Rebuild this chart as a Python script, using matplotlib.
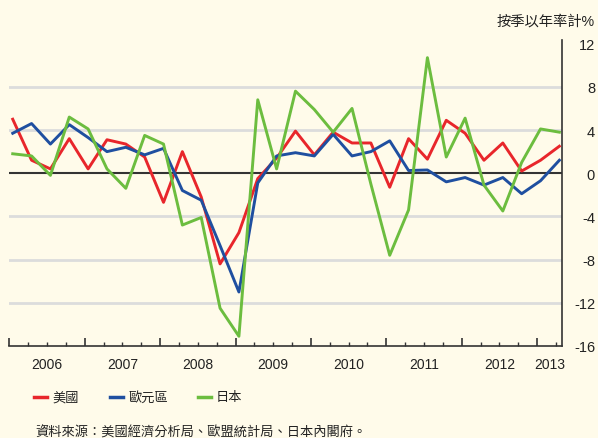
import matplotlib
matplotlib.use("Agg")
import matplotlib.pyplot as plt
from matplotlib.lines import Line2D
import numpy as np

plt.rcParams['font.family'] = ['Liberation Sans', 'Noto Sans CJK TC', 'DejaVu Sans']

# Quarterly data 2006Q1 - 2013Q2 (annualised q/q growth, %)
us = [5.0, 1.2, 0.4, 3.2, 0.4, 3.1, 2.7, 1.5, -2.7, 2.0,
      -2.2, -8.4, -5.5, -0.5, 1.4, 3.9, 1.7, 3.8, 2.8, 2.8,
      -1.3, 3.2, 1.3, 4.9, 3.7, 1.2, 2.8, 0.2, 1.2, 2.5]
euro = [3.7, 4.6, 2.7, 4.5, 3.3, 2.0, 2.4, 1.7, 2.3, -1.6,
        -2.5, -6.7, -11.0, -0.9, 1.6, 1.9, 1.6, 3.6, 1.6, 2.0,
        3.0, 0.25, 0.3, -0.8, -0.4, -1.1, -0.4, -1.9, -0.7, 1.2]
japan = [1.8, 1.6, -0.2, 5.2, 4.1, 0.4, -1.4, 3.5, 2.7, -4.8,
         -4.1, -12.5, -15.1, 6.8, 0.4, 7.6, 5.9, 3.8, 6.0, -1.0,
         -7.6, -3.4, 10.7, 1.5, 5.1, -1.1, -3.5, 1.0, 4.1, 3.8]
series_names = ['美國', '歐元區', '日本']
colors = ['#e8262b', '#1f4fa0', '#6cbd3f']
years = [2006, 2007, 2008, 2009, 2010, 2011, 2012, 2013]
yticks = [12, 8, 4, 0, -4, -8, -12, -16]
unit_label = '按季以年率計%'
source = '資料來源：美國經濟分析局、歐盟統計局、日本內閣府。'

bg = '#fffbea'
W, H = 598, 439
n = len(us)
x = 2006 + np.arange(n) * 0.25 + 0.045

fig = plt.figure(figsize=(W / 100, H / 100), dpi=100, facecolor=bg)
ax = fig.add_axes([0.0156, 0.2096, 0.9237, 0.6961])
ax.set_facecolor(bg)

for v in yticks:
    if v in (0, -16, 12):
        continue
    ax.axhline(v, color='#dcdcdc', lw=2.0, zorder=1)
ax.axhline(0, color='#333333', lw=1.5, zorder=2)

for data, c in zip([us, euro, japan], colors):
    ax.plot(x, data, color=c, lw=2.1, zorder=3)

ax.set_xlim(2006.0, 2013.326)
ax.set_ylim(-16, 12.3)

for s in ['top', 'left']:
    ax.spines[s].set_visible(False)
for s in ['bottom', 'right']:
    ax.spines[s].set_color('#333333')
    ax.spines[s].set_linewidth(1.2)

ax.yaxis.tick_right()
ax.set_yticks(yticks)
ax.set_yticklabels([str(v) for v in yticks])
ax.tick_params(axis='y', length=0, pad=24, labelsize=10.5, labelcolor='#222222')
for lab in ax.get_yticklabels():
    lab.set_ha('right')

ax.set_xticks(years)
ax.set_xticks(np.arange(2006, 2013.3, 0.25), minor=True)
ax.set_xticklabels([])
ax.tick_params(axis='x', which='major', direction='in', length=6, width=1.2, color='#333333')
ax.tick_params(axis='x', which='minor', direction='in', length=3, width=1.0, color='#333333')

xmax = ax.get_xlim()[1]
for yv in years:
    cx = yv + 0.5 if yv + 1 <= xmax else (yv + xmax) / 2
    ax.text(cx, -0.06, str(yv), transform=ax.get_xaxis_transform(),
            ha='center', va='center', fontsize=10, color='#222222')

fig.text(595 / W, 1 - 22 / H, unit_label, ha='right', va='center',
         fontsize=10.3, color='#222222')

# legend (manual placement)
leg_y = 1 - 398 / H
leg_x = [34, 110, 198]
for lx, name, c in zip(leg_x, series_names, colors):
    fig.add_artist(Line2D([lx / W, (lx + 13) / W], [leg_y, leg_y],
                          transform=fig.transFigure, color=c, lw=2.5))
    fig.text((lx + 18) / W, leg_y, name, ha='left', va='center',
             fontsize=9.5, color='#222222')

fig.text(35 / W, 1 - 433 / H, source, ha='left', va='center',
         fontsize=9.5, color='#222222')

fig.savefig('out.png', dpi=100, facecolor=bg)
